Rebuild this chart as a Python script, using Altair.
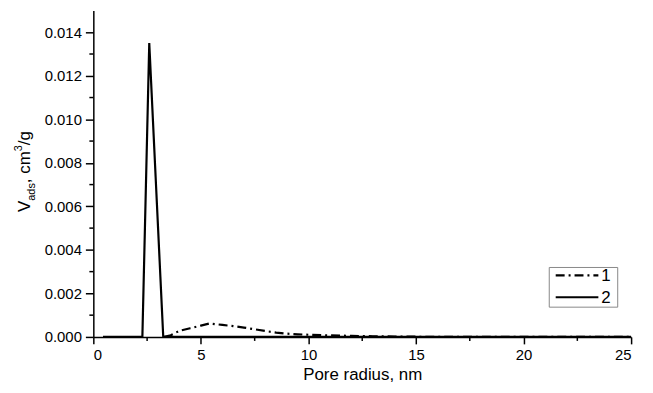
import altair as alt
import pandas as pd

# Series 1 (dash-dot)
r1 = [3.3, 3.6, 4.0, 4.5, 5.0, 5.4, 6.0, 6.5, 7.0, 7.5, 8.0, 8.5, 9.0, 9.5, 10.0,
      11.0, 12.0, 13.0, 14.0, 15.0, 17.0, 19.0, 21.0, 23.0, 25.0]
v1 = [0.0, 0.00008, 0.00028, 0.0004, 0.00052, 0.00062, 0.00055, 0.0005, 0.00043,
      0.00035, 0.00027, 0.0002, 0.00015, 0.00012, 0.0001, 0.00007, 0.00005,
      0.00003, 0.00002, 0.00001, 0.000005, 0.0, 0.0, 0.0, 0.0]
# Series 2 (solid)
r2 = [0.45, 1.0, 1.5, 2.0, 2.28, 2.6, 3.25, 4.0, 6.0, 10.0, 15.0, 20.0, 25.0]
v2 = [0.0, 0.0, 0.0, 0.0, 0.0, 0.0135, 0.0, 0.0, 0.0, 0.0, 0.0, 0.0, 0.0]

series_names = ["1", "2"]
series_dash = [[9, 4, 2, 4], [1, 0]]
x_ticks = [0, 5, 10, 15, 20, 25]
x_minor = [2.5, 7.5, 12.5, 17.5, 22.5]
y_ticks = [0.0, 0.002, 0.004, 0.006, 0.008, 0.010, 0.012, 0.014]
y_minor = [0.001, 0.003, 0.005, 0.007, 0.009, 0.011, 0.013]

df = pd.concat([
    pd.DataFrame({"r": r1, "v": v1, "series": series_names[0], "order": range(len(r1))}),
    pd.DataFrame({"r": r2, "v": v2, "series": series_names[1], "order": range(len(r2))}),
])

W, H = 542, 329
FONT = "Liberation Sans"

xscale = alt.Scale(domain=[0, 25], nice=False)
yscale = alt.Scale(domain=[0, 0.015], nice=False)

lines = alt.Chart(df).mark_line(color="black", strokeWidth=2.2).encode(
    x=alt.X("r:Q", scale=xscale,
            axis=alt.Axis(values=x_ticks, title="Pore radius, nm", format="d",
                          tickSize=7, labelPadding=4, titlePadding=4,
                          labelFontSize=15, titleFontSize=17, titleFontWeight="normal")),
    y=alt.Y("v:Q", scale=yscale,
            axis=alt.Axis(values=y_ticks, title=None, format=".3f",
                          tickSize=8, labelPadding=4, labelFontSize=15)),
    strokeDash=alt.StrokeDash(
        "series:N",
        scale=alt.Scale(domain=series_names, range=series_dash),
        legend=None,
    ),
    order="order:Q",
)

xm = alt.Chart(pd.DataFrame({"m": x_minor})).mark_rule(color="black", strokeWidth=1.5).encode(
    x=alt.X("m:Q", scale=xscale), y=alt.value(H), y2=alt.value(H + 4))
ym = alt.Chart(pd.DataFrame({"m": y_minor})).mark_rule(color="black", strokeWidth=1.5).encode(
    y=alt.Y("m:Q", scale=yscale), x=alt.value(0), x2=alt.value(-4))

one = pd.DataFrame({"a": [0]})
def txt(s, x, y, size, angle=270):
    return alt.Chart(one).mark_text(angle=angle, align="left", baseline="alphabetic",
                                    fontSize=size, font=FONT, color="black").encode(
        text=alt.value(s), x=alt.value(x), y=alt.value(y))

BX = -64
title_parts = [
    txt("V", BX, 203, 17),
    txt("ads", BX + 5, 191.7, 11),
    txt(", cm", BX, 174, 17),
    txt("3", BX - 8, 141.9, 11),
    txt("/g", BX, 135.8, 17),
]

# legend (box, samples, labels)
LX0, LX1, LY0, LY1 = 459.5, 528.5, 259, 299
legend_box = alt.Chart(one).mark_rect(fill="white", stroke="#888888", strokeWidth=1).encode(
    x=alt.value(LX0), x2=alt.value(LX1), y=alt.value(LY0), y2=alt.value(LY1))
legend_items = []
for i, (name, dash) in enumerate(zip(series_names, series_dash)):
    yy = 267 + 22 * i
    legend_items.append(
        alt.Chart(one).mark_rule(color="black", strokeWidth=2.2, strokeDash=dash).encode(
            x=alt.value(466), x2=alt.value(509), y=alt.value(yy)))
    legend_items.append(
        alt.Chart(one).mark_text(align="left", baseline="middle", fontSize=17, font=FONT,
                                 color="black").encode(
            text=alt.value(name), x=alt.value(512), y=alt.value(yy + 1)))

chart = alt.layer(lines, xm, ym, *title_parts, legend_box, *legend_items).properties(
    width=W, height=H,
    autosize=alt.AutoSizeParams(type="none"),
    padding={"left": 86, "top": 1, "right": 14, "bottom": 54},
).configure_view(stroke=None).configure_axis(
    grid=False, domainColor="black", domainWidth=1.5, tickColor="black", tickWidth=1.5,
    labelColor="black", titleColor="black", labelFont=FONT, titleFont=FONT,
)

chart.save("out.html", embed_options={"renderer": "svg", "actions": False})
